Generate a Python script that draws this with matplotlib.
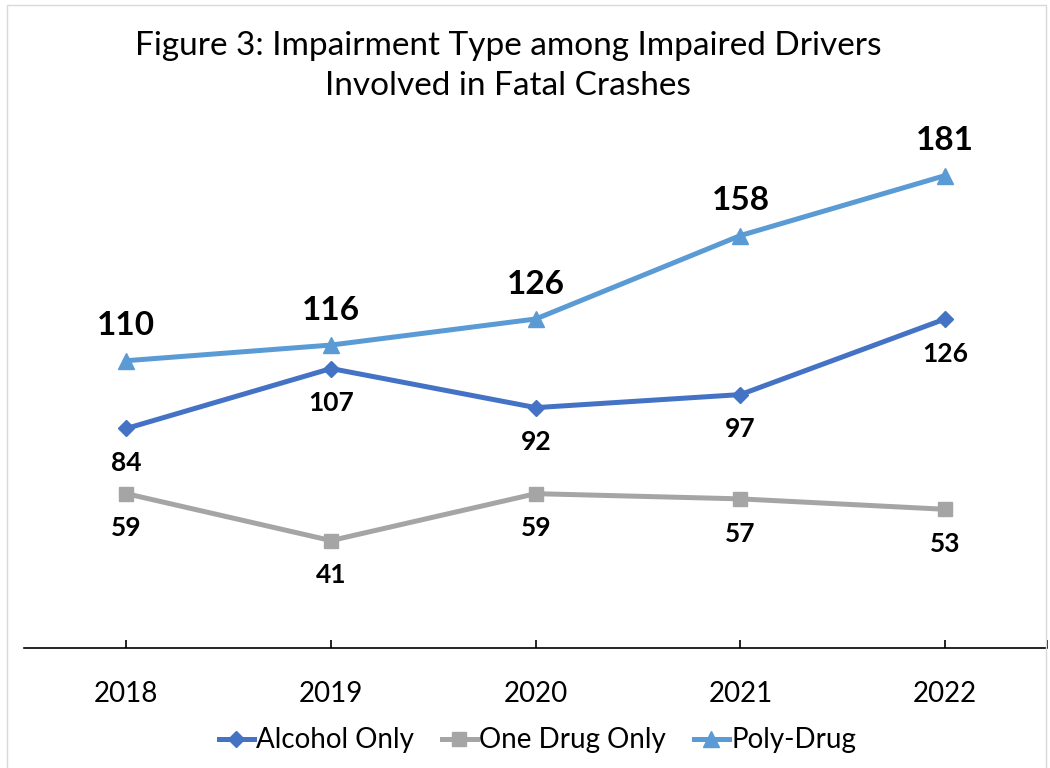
import matplotlib.pyplot as plt
from matplotlib.patches import Rectangle

plt.rcParams['font.family'] = ['Lato', 'DejaVu Sans']

years = ['2018', '2019', '2020', '2021', '2022']
alcohol = [84, 107, 92, 97, 126]
one_drug = [59, 41, 59, 57, 53]
poly_drug = [110, 116, 126, 158, 181]

fig = plt.figure(figsize=(10.5, 7.68), dpi=100)
ax = fig.add_axes([0.0229, 0.1569, 0.9747, 0.679])

x = list(range(len(years)))
ax.plot(x, alcohol, color='#4472C4', lw=3.6, marker='D', ms=8, label='Alcohol Only')
ax.plot(x, one_drug, color='#A5A5A5', lw=3.6, marker='s', ms=10, label='One Drug Only')
ax.plot(x, poly_drug, color='#5B9BD5', lw=3.6, marker='^', ms=12, label='Poly-Drug')

for i, v in enumerate(poly_drug):
    ax.annotate(str(v), (i, v), xytext=(0, 25), textcoords='offset points',
                ha='center', va='center', fontsize=24, fontweight='bold')
for i, v in enumerate(alcohol):
    ax.annotate(str(v), (i, v), xytext=(0, -25), textcoords='offset points',
                ha='center', va='center', fontsize=19, fontweight='bold')
for i, v in enumerate(one_drug):
    ax.annotate(str(v), (i, v), xytext=(0, -25), textcoords='offset points',
                ha='center', va='center', fontsize=19, fontweight='bold')

ax.set_xlim(-0.5, 4.5)
ax.set_ylim(0, 200)
# ticks at each category and at the right end of the axis
ax.set_xticks(x + [4.5])
ax.set_xticklabels(years + [''], fontsize=20)
ax.tick_params(axis='x', direction='in', length=6, width=1.2, pad=24)
ax.set_yticks([])
for s in ['top', 'right', 'left']:
    ax.spines[s].set_visible(False)
ax.spines['bottom'].set_linewidth(1.2)

fig.text(0.484, 0.914, 'Figure 3: Impairment Type among Impaired Drivers\nInvolved in Fatal Crashes',
         ha='center', va='center', fontsize=24, linespacing=1.45)

fig.legend(loc='center', bbox_to_anchor=(0.512, 0.036), ncol=3, frameon=False,
           fontsize=20, handlelength=1.25, handletextpad=0.1, columnspacing=1.0)

fig.patches.append(Rectangle((0.0065, -0.01), 0.99, 1.003, transform=fig.transFigure,
                             fill=False, edgecolor='#D9D9D9', lw=1))

fig.savefig('out.png', dpi=100)
